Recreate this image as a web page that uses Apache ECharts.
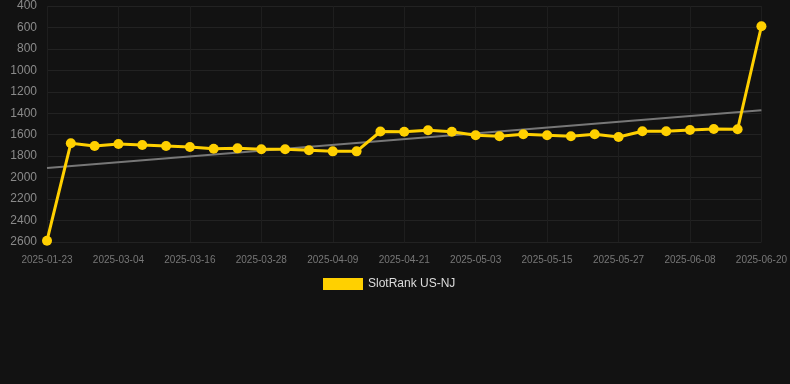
<!DOCTYPE html>
<html><head><meta charset="utf-8">
<script src="https://cdn.jsdelivr.net/npm/echarts@6/dist/echarts.min.js"></script>
<style>html,body{margin:0;padding:0;background:#121212;}#c{width:790px;height:384px;}</style>
</head><body><div id="c"></div>
<script>
const dates = ['2025-01-23','2025-02-24','2025-02-28','2025-03-04','2025-03-08','2025-03-12','2025-03-16','2025-03-20','2025-03-24','2025-03-28','2025-04-01','2025-04-05','2025-04-09','2025-04-13','2025-04-17','2025-04-21','2025-04-25','2025-04-29','2025-05-03','2025-05-07','2025-05-11','2025-05-15','2025-05-19','2025-05-23','2025-05-27','2025-05-31','2025-06-04','2025-06-08','2025-06-12','2025-06-16','2025-06-20'];
const rank = [2588,1680,1705,1686,1696,1705,1714,1730,1727,1736,1736,1745,1755,1755,1570,1572,1559,1572,1605,1615,1596,1605,1615,1596,1621,1568,1568,1556,1547,1549,589];
const trendStart = 1910;
const trendEnd = 1372;
const seriesName = 'SlotRank US-NJ';

const chart = echarts.init(document.getElementById('c'));
chart.setOption({
  backgroundColor: '#121212',
  animation: false,
  grid: {left: 47, right: 28, top: 6, bottom: 142},
  legend: {
    data: [seriesName], bottom: 89, left: 318,
    itemWidth: 40, itemHeight: 12, icon: 'rect',
    textStyle: {color: '#dddddd', fontSize: 12, fontFamily: 'Liberation Sans, Arial, sans-serif'}
  },
  xAxis: {
    type: 'category', data: dates, boundaryGap: false,
    axisLine: {show: false}, axisTick: {show: false},
    axisLabel: {interval: 2, color: '#777777', fontSize: 10, margin: 13, fontFamily: 'Liberation Sans, Arial, sans-serif'},
    splitLine: {show: true, interval: 2, lineStyle: {color: '#1e1e1e', width: 1}}
  },
  yAxis: {
    type: 'value', inverse: true, min: 400, max: 2600, interval: 200,
    axisLine: {show: false}, axisTick: {show: false},
    axisLabel: {color: '#8a8a8a', fontSize: 12, margin: 10, fontFamily: 'Liberation Sans, Arial, sans-serif',
      formatter: v => String(v)},
    splitLine: {lineStyle: {color: '#222222', width: 1}}
  },
  series: [
    {
      name: 'trend', type: 'line', data: [[dates[0], trendStart], [dates[dates.length-1], trendEnd]],
      symbol: 'none', lineStyle: {color: '#777777', width: 2}, silent: true, z: 1
    },
    {
      name: seriesName, type: 'line', data: rank,
      symbol: 'circle', symbolSize: 10,
      itemStyle: {color: '#FFD000'},
      lineStyle: {color: '#FFD000', width: 3}, z: 2
    }
  ]
});
</script></body></html>
